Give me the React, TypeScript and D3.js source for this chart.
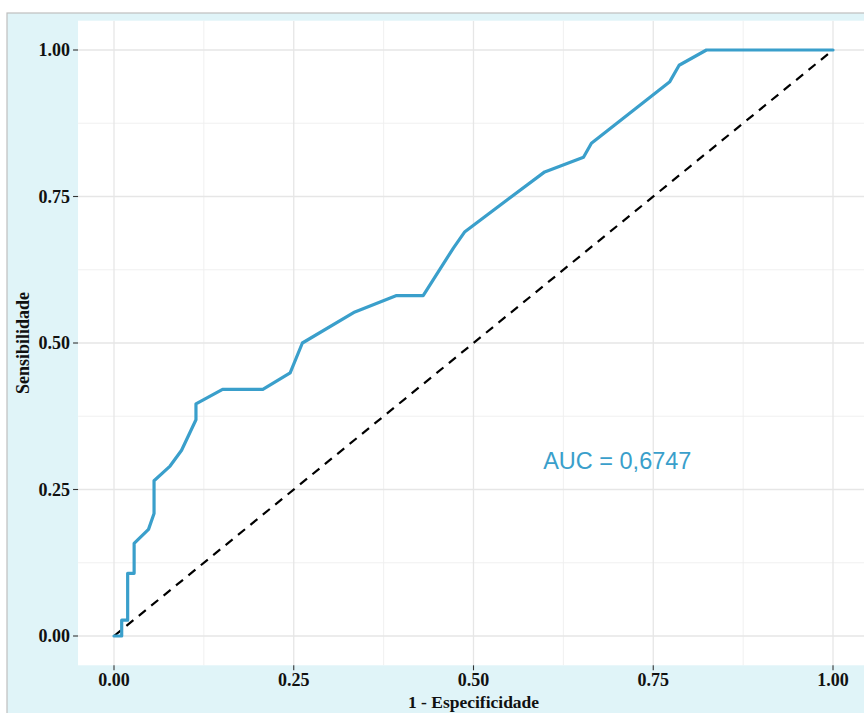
import React from "react";
import * as d3 from "d3";

const fpr = [0, 0.0107, 0.0107, 0.019, 0.019, 0.028, 0.028, 0.048, 0.0557, 0.0557, 0.078, 0.094, 0.114, 0.114, 0.151, 0.207, 0.245, 0.262, 0.335, 0.393, 0.43, 0.472, 0.488, 0.599, 0.653, 0.664, 0.773, 0.786, 0.824, 1];
const tpr = [0, 0, 0.027, 0.027, 0.107, 0.107, 0.158, 0.182, 0.209, 0.265, 0.29, 0.317, 0.369, 0.396, 0.421, 0.421, 0.449, 0.5, 0.553, 0.581, 0.581, 0.662, 0.69, 0.792, 0.817, 0.841, 0.946, 0.974, 1.0, 1.0];
const majorTicks = [0, 0.25, 0.5, 0.75, 1];
const minorTicks = [0.125, 0.375, 0.625, 0.875];
const tickLabels = ["0.00", "0.25", "0.50", "0.75", "1.00"];
const xTitle = "1 - Especificidade";
const yTitle = "Sensibilidade";
const aucLabel = "AUC = 0,6747";
const aucPos = [0.7, 0.295];

const W = 864;
const H = 713;
const x = d3.scaleLinear().domain([0, 1]).range([114, 833]);
const y = d3.scaleLinear().domain([0, 1]).range([636, 50]);
const panel = { left: x(-0.05), right: x(1.05), top: y(1.05), bottom: y(-0.05) };
const lineColor = "#3A9FCB";
const serif = "'Liberation Serif', 'Times New Roman', serif";

export default function App() {
  const pts: [number, number][] = fpr.map((f, i) => [f, tpr[i]]);
  const line = d3.line<[number, number]>().x((d) => x(d[0])).y((d) => y(d[1]));
  return (
    <div style={{ position: "fixed", left: 0, top: 0 }}>
      <svg width={W} height={H} style={{ display: "block" }}>
        <rect x={0} y={0} width={W} height={H} fill="#ffffff" />
        <rect x={7} y={13} width={W} height={H} fill="#E0F4F8" stroke="#BEBEBE" strokeWidth={1.2} />
        <rect x={panel.left} y={panel.top} width={panel.right - panel.left} height={panel.bottom - panel.top} fill="#ffffff" />
        <clipPath id="pc">
          <rect x={panel.left} y={panel.top} width={panel.right - panel.left} height={panel.bottom - panel.top} />
        </clipPath>
        <g clipPath="url(#pc)">
          {minorTicks.map((t) => (
            <g key={"m" + t}>
              <line x1={x(t)} x2={x(t)} y1={panel.top} y2={panel.bottom} stroke="#EEEEEE" strokeWidth={0.9} />
              <line x1={panel.left} x2={panel.right} y1={y(t)} y2={y(t)} stroke="#EEEEEE" strokeWidth={0.9} />
            </g>
          ))}
          {majorTicks.map((t) => (
            <g key={"M" + t}>
              <line x1={x(t)} x2={x(t)} y1={panel.top} y2={panel.bottom} stroke="#E6E6E6" strokeWidth={1.3} />
              <line x1={panel.left} x2={panel.right} y1={y(t)} y2={y(t)} stroke="#E6E6E6" strokeWidth={1.3} />
            </g>
          ))}
          <line x1={x(0)} y1={y(0)} x2={x(1)} y2={y(1)} stroke="#000" strokeWidth={2.2} strokeDasharray="9,7" />
          <path d={line(pts) || ""} fill="none" stroke={lineColor} strokeWidth={3.2} strokeLinejoin="round" strokeLinecap="round" />
          <text x={x(aucPos[0])} y={y(aucPos[1])} textAnchor="middle" dominantBaseline="middle" fill={lineColor} fontFamily="'Liberation Sans', Arial, sans-serif" fontSize={23.5}>
            {aucLabel}
          </text>
        </g>
        {majorTicks.map((t, i) => (
          <g key={"yt" + t}>
            <line x1={panel.left - 5} x2={panel.left} y1={y(t)} y2={y(t)} stroke="#333" strokeWidth={1.1} />
            <text x={panel.left - 8} y={y(t)} textAnchor="end" dominantBaseline="central" fontFamily={serif} fontWeight="bold" fontSize={18} fill="#111">
              {tickLabels[i]}
            </text>
          </g>
        ))}
        {majorTicks.map((t, i) => (
          <g key={"xt" + t}>
            <line x1={x(t)} x2={x(t)} y1={panel.bottom} y2={panel.bottom + 5} stroke="#333" strokeWidth={1.1} />
            <text x={x(t)} y={panel.bottom + 21} textAnchor="middle" fontFamily={serif} fontWeight="bold" fontSize={18} fill="#111">
              {tickLabels[i]}
            </text>
          </g>
        ))}
        <text x={(panel.left + panel.right) / 2} y={708} textAnchor="middle" fontFamily={serif} fontWeight="bold" fontSize={17.5} fill="#111">
          {xTitle}
        </text>
        <text transform={`translate(29, ${(panel.top + panel.bottom) / 2}) rotate(-90)`} textAnchor="middle" fontFamily={serif} fontWeight="bold" fontSize={18} fill="#111">
          {yTitle}
        </text>
      </svg>
    </div>
  );
}
